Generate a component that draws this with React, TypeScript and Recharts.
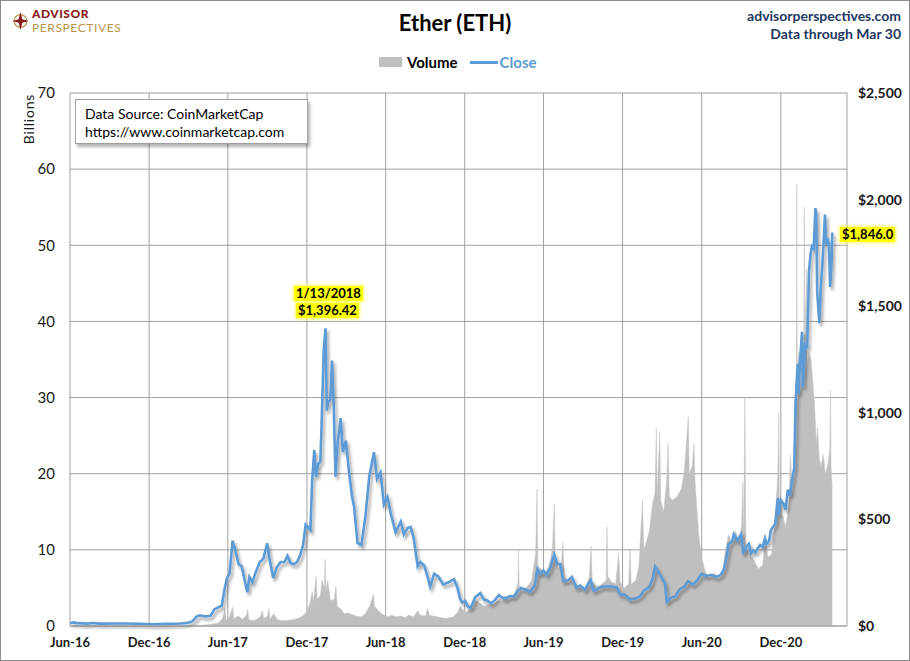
import React from "react";
import { ComposedChart, Area, Line, XAxis, YAxis, CartesianGrid } from "recharts";

// x axis: 6-month gridlines
const tickDates = [
  "2016-06-01", "2016-12-01", "2017-06-01", "2017-12-01", "2018-06-01",
  "2018-12-01", "2019-06-01", "2019-12-01", "2020-06-01", "2020-12-01",
];
const tickLabels = [
  "Jun-16", "Dec-16", "Jun-17", "Dec-17", "Jun-18",
  "Dec-18", "Jun-19", "Dec-19", "Jun-20", "Dec-20",
];
const axisEnd = "2021-05-03";

const volumeTicks = [0, 10, 20, 30, 40, 50, 60, 70];
const closeTicks = [0, 500, 1000, 1500, 2000, 2500];

// ETH close, USD
const closePoints: [string, number][] = [
  ["2016-06-01", 14], ["2016-06-12", 17], ["2016-06-17", 13], ["2016-06-25", 13.5],
  ["2016-07-10", 11], ["2016-07-22", 14], ["2016-08-10", 11], ["2016-09-10", 12],
  ["2016-10-10", 12], ["2016-11-10", 10.5], ["2016-12-10", 8], ["2017-01-10", 10],
  ["2017-02-10", 11.5], ["2017-02-25", 14], ["2017-03-08", 19], ["2017-03-14", 28],
  ["2017-03-20", 43], ["2017-03-28", 50], ["2017-04-10", 45], ["2017-04-22", 48],
  ["2017-05-01", 78], ["2017-05-10", 88], ["2017-05-18", 95], ["2017-05-24", 168],
  ["2017-05-30", 225], ["2017-06-05", 245], ["2017-06-12", 400], ["2017-06-18", 360],
  ["2017-06-26", 290], ["2017-07-03", 280], ["2017-07-10", 215], ["2017-07-16", 158],
  ["2017-07-21", 230], ["2017-07-28", 205], ["2017-08-05", 255], ["2017-08-14", 300],
  ["2017-08-22", 315], ["2017-08-31", 388], ["2017-09-05", 320], ["2017-09-14", 225],
  ["2017-09-22", 275], ["2017-10-01", 300], ["2017-10-10", 300], ["2017-10-17", 330],
  ["2017-10-24", 295], ["2017-11-01", 290], ["2017-11-08", 300], ["2017-11-15", 330],
  ["2017-11-22", 380], ["2017-11-28", 475], ["2017-12-05", 460], ["2017-12-09", 450],
  ["2017-12-13", 680], ["2017-12-18", 825], ["2017-12-22", 700], ["2017-12-27", 760],
  ["2018-01-01", 770], ["2018-01-04", 950], ["2018-01-09", 1300], ["2018-01-13", 1396.42],
  ["2018-01-16", 1010], ["2018-01-19", 1050], ["2018-01-24", 1060], ["2018-01-28", 1245],
  ["2018-02-01", 1030], ["2018-02-05", 700], ["2018-02-10", 860], ["2018-02-17", 975],
  ["2018-02-22", 815], ["2018-03-01", 870], ["2018-03-08", 730], ["2018-03-15", 610],
  ["2018-03-20", 560], ["2018-03-28", 390], ["2018-04-06", 380], ["2018-04-15", 510],
  ["2018-04-24", 700], ["2018-05-05", 815], ["2018-05-12", 690], ["2018-05-20", 720],
  ["2018-05-28", 570], ["2018-06-05", 605], ["2018-06-13", 525], ["2018-06-24", 440],
  ["2018-07-06", 490], ["2018-07-13", 430], ["2018-07-22", 460], ["2018-07-29", 465],
  ["2018-08-05", 410], ["2018-08-14", 280], ["2018-08-20", 300], ["2018-08-29", 285],
  ["2018-09-06", 230], ["2018-09-12", 185], ["2018-09-21", 245], ["2018-10-01", 232],
  ["2018-10-12", 195], ["2018-10-25", 205], ["2018-11-06", 220], ["2018-11-14", 180],
  ["2018-11-20", 128], ["2018-11-25", 110], ["2018-12-02", 118], ["2018-12-08", 92],
  ["2018-12-14", 84], ["2018-12-20", 110], ["2018-12-25", 135], ["2019-01-06", 155],
  ["2019-01-14", 125], ["2019-01-22", 120], ["2019-01-31", 107], ["2019-02-08", 120],
  ["2019-02-18", 145], ["2019-02-24", 135], ["2019-03-05", 128], ["2019-03-15", 140],
  ["2019-03-25", 138], ["2019-04-03", 165], ["2019-04-10", 178], ["2019-04-22", 170],
  ["2019-05-01", 160], ["2019-05-12", 190], ["2019-05-18", 265], ["2019-05-24", 245],
  ["2019-06-01", 260], ["2019-06-08", 240], ["2019-06-16", 270], ["2019-06-26", 335],
  ["2019-07-03", 290], ["2019-07-10", 290], ["2019-07-17", 210], ["2019-07-28", 215],
  ["2019-08-06", 230], ["2019-08-16", 180], ["2019-08-25", 190], ["2019-09-05", 170],
  ["2019-09-18", 215], ["2019-09-25", 165], ["2019-10-05", 175], ["2019-10-15", 185],
  ["2019-10-26", 185], ["2019-11-08", 185], ["2019-11-18", 180], ["2019-11-25", 148],
  ["2019-12-05", 148], ["2019-12-18", 125], ["2020-01-01", 130], ["2020-01-10", 140],
  ["2020-01-19", 165], ["2020-02-01", 185], ["2020-02-09", 225], ["2020-02-14", 280],
  ["2020-02-20", 260], ["2020-03-01", 225], ["2020-03-08", 200], ["2020-03-12", 112],
  ["2020-03-20", 130], ["2020-04-01", 140], ["2020-04-10", 170], ["2020-04-22", 185],
  ["2020-04-30", 210], ["2020-05-12", 195], ["2020-05-20", 210], ["2020-06-01", 245],
  ["2020-06-12", 235], ["2020-06-22", 240], ["2020-07-05", 230], ["2020-07-15", 240],
  ["2020-07-22", 265], ["2020-07-28", 320], ["2020-08-02", 385], ["2020-08-10", 395],
  ["2020-08-14", 430], ["2020-08-22", 400], ["2020-08-31", 430], ["2020-09-05", 345],
  ["2020-09-09", 355], ["2020-09-13", 375], ["2020-09-18", 385], ["2020-09-23", 340],
  ["2020-09-28", 355], ["2020-10-03", 345], ["2020-10-09", 365], ["2020-10-14", 380],
  ["2020-10-20", 370], ["2020-10-25", 410], ["2020-10-29", 385], ["2020-11-04", 400],
  ["2020-11-08", 450], ["2020-11-18", 480], ["2020-11-24", 600], ["2020-11-26", 520],
  ["2020-12-01", 590], ["2020-12-08", 570], ["2020-12-12", 545], ["2020-12-17", 640],
  ["2020-12-22", 610], ["2020-12-27", 685], ["2021-01-01", 740], ["2021-01-04", 1040],
  ["2021-01-09", 1230], ["2021-01-11", 1090], ["2021-01-14", 1230], ["2021-01-19", 1380],
  ["2021-01-21", 1120], ["2021-01-26", 1320], ["2021-01-31", 1310], ["2021-02-04", 1660],
  ["2021-02-08", 1750], ["2021-02-11", 1780], ["2021-02-15", 1770], ["2021-02-19", 1960],
  ["2021-02-21", 1930], ["2021-02-23", 1570], ["2021-02-26", 1480], ["2021-02-28", 1420],
  ["2021-03-03", 1570], ["2021-03-06", 1660], ["2021-03-10", 1800], ["2021-03-13", 1930],
  ["2021-03-16", 1790], ["2021-03-19", 1820], ["2021-03-22", 1790], ["2021-03-25", 1590],
  ["2021-03-28", 1690], ["2021-03-30", 1846],
];

// ETH volume, billions USD
const volumePoints: [string, number][] = [
  ["2016-06-01", 0.05], ["2016-12-01", 0.03], ["2017-03-01", 0.06], ["2017-04-01", 0.1],
  ["2017-04-20", 0.2], ["2017-05-01", 0.3], ["2017-05-10", 0.4], ["2017-05-20", 1.0],
  ["2017-05-25", 2.3], ["2017-05-28", 0.8], ["2017-06-05", 1.2], ["2017-06-12", 2.5],
  ["2017-06-15", 1.0], ["2017-06-25", 1.3], ["2017-07-05", 0.9], ["2017-07-15", 1.5],
  ["2017-07-17", 2.2], ["2017-07-20", 0.8], ["2017-08-01", 0.7], ["2017-08-15", 1.2],
  ["2017-08-20", 2.0], ["2017-08-23", 1.0], ["2017-09-01", 1.3], ["2017-09-04", 2.3],
  ["2017-09-07", 0.9], ["2017-09-15", 1.6], ["2017-09-25", 0.8], ["2017-10-10", 0.7],
  ["2017-10-25", 0.8], ["2017-11-05", 0.9], ["2017-11-15", 1.1], ["2017-11-25", 1.5],
  ["2017-12-01", 2.0], ["2017-12-08", 3.0], ["2017-12-13", 4.5], ["2017-12-16", 3.2],
  ["2017-12-22", 6.5], ["2017-12-25", 3.5], ["2018-01-01", 4.0], ["2018-01-05", 6.0],
  ["2018-01-10", 5.0], ["2018-01-12", 8.8], ["2018-01-14", 4.5], ["2018-01-18", 6.0],
  ["2018-01-25", 3.3], ["2018-02-02", 3.5], ["2018-02-06", 5.2], ["2018-02-09", 2.6],
  ["2018-02-18", 2.2], ["2018-02-25", 1.6], ["2018-03-05", 1.7], ["2018-03-15", 1.5],
  ["2018-03-25", 1.3], ["2018-04-05", 1.2], ["2018-04-15", 1.6], ["2018-04-25", 2.6],
  ["2018-05-04", 4.2], ["2018-05-06", 2.6], ["2018-05-15", 2.0], ["2018-05-25", 1.5],
  ["2018-06-05", 1.2], ["2018-06-15", 1.4], ["2018-06-25", 1.2], ["2018-07-05", 1.3],
  ["2018-07-15", 1.1], ["2018-07-25", 1.4], ["2018-08-05", 1.2], ["2018-08-14", 2.0],
  ["2018-08-20", 1.4], ["2018-09-01", 1.3], ["2018-09-06", 2.3], ["2018-09-10", 1.4],
  ["2018-09-20", 1.3], ["2018-10-05", 1.1], ["2018-10-20", 1.0], ["2018-11-05", 1.2],
  ["2018-11-15", 1.8], ["2018-11-20", 2.6], ["2018-11-25", 2.2], ["2018-12-05", 1.8],
  ["2018-12-15", 2.4], ["2018-12-25", 3.4], ["2019-01-05", 3.0], ["2019-01-15", 2.6],
  ["2019-01-25", 2.8], ["2019-02-05", 2.9], ["2019-02-15", 3.3], ["2019-02-25", 3.2],
  ["2019-03-05", 4.0], ["2019-03-15", 3.6], ["2019-03-25", 4.2], ["2019-04-03", 5.5],
  ["2019-04-04", 10.0], ["2019-04-06", 5.0], ["2019-04-15", 4.6], ["2019-04-25", 5.2],
  ["2019-05-05", 6.0], ["2019-05-10", 8.0], ["2019-05-14", 9.5], ["2019-05-17", 18.0],
  ["2019-05-19", 8.0], ["2019-05-25", 7.5], ["2019-06-05", 7.0], ["2019-06-15", 8.0],
  ["2019-06-22", 10.5], ["2019-06-26", 16.0], ["2019-06-28", 9.0], ["2019-07-05", 7.5],
  ["2019-07-12", 8.0], ["2019-07-16", 11.0], ["2019-07-19", 6.5], ["2019-07-28", 5.8],
  ["2019-08-05", 6.5], ["2019-08-15", 5.5], ["2019-08-25", 5.0], ["2019-09-05", 5.0],
  ["2019-09-15", 6.4], ["2019-09-19", 10.5], ["2019-09-22", 5.8], ["2019-10-01", 5.2],
  ["2019-10-12", 5.4], ["2019-10-24", 6.0], ["2019-10-26", 13.0], ["2019-10-28", 6.5],
  ["2019-11-05", 5.8], ["2019-11-15", 5.5], ["2019-11-22", 9.5], ["2019-11-25", 5.8],
  ["2019-12-05", 5.0], ["2019-12-15", 5.5], ["2019-12-18", 10.0], ["2019-12-21", 5.5],
  ["2020-01-01", 6.0], ["2020-01-08", 8.0], ["2020-01-16", 16.5], ["2020-01-19", 10.0],
  ["2020-01-25", 11.0], ["2020-02-01", 12.5], ["2020-02-08", 16.0], ["2020-02-14", 17.5],
  ["2020-02-17", 26.0], ["2020-02-19", 17.0], ["2020-02-25", 25.5], ["2020-02-27", 16.5],
  ["2020-03-05", 15.0], ["2020-03-12", 19.0], ["2020-03-15", 24.0], ["2020-03-18", 17.0],
  ["2020-03-25", 16.5], ["2020-04-05", 17.0], ["2020-04-15", 18.0], ["2020-04-22", 20.5],
  ["2020-05-01", 27.5], ["2020-05-03", 20.0], ["2020-05-10", 21.0], ["2020-05-14", 24.0],
  ["2020-05-17", 18.5], ["2020-05-25", 12.0], ["2020-06-01", 9.0], ["2020-06-10", 7.0],
  ["2020-06-20", 6.5], ["2020-06-30", 7.0], ["2020-07-10", 6.2], ["2020-07-20", 7.5],
  ["2020-07-26", 10.0], ["2020-08-02", 12.0], ["2020-08-10", 11.0], ["2020-08-18", 12.5],
  ["2020-08-25", 11.0], ["2020-09-01", 13.0], ["2020-09-04", 18.8], ["2020-09-06", 12.0],
  ["2020-09-09", 30.0], ["2020-09-11", 10.5], ["2020-09-20", 9.5], ["2020-10-01", 8.5],
  ["2020-10-10", 7.5], ["2020-10-20", 8.0], ["2020-10-26", 12.0], ["2020-11-01", 9.0],
  ["2020-11-10", 9.5], ["2020-11-18", 14.0], ["2020-11-24", 20.0], ["2020-11-26", 28.0],
  ["2020-11-28", 14.0], ["2020-12-05", 14.5], ["2020-12-12", 13.0], ["2020-12-20", 16.0],
  ["2020-12-23", 22.5], ["2020-12-27", 18.0], ["2021-01-01", 22.0], ["2021-01-03", 30.0],
  ["2021-01-06", 33.0], ["2021-01-07", 58.0], ["2021-01-08", 33.0], ["2021-01-12", 36.0],
  ["2021-01-16", 30.0], ["2021-01-20", 34.0], ["2021-01-23", 36.0], ["2021-01-24", 55.0],
  ["2021-01-25", 35.0], ["2021-01-29", 47.0], ["2021-01-30", 34.0], ["2021-02-04", 36.0],
  ["2021-02-09", 35.0], ["2021-02-13", 32.0], ["2021-02-17", 29.0], ["2021-02-21", 24.0],
  ["2021-02-24", 26.0], ["2021-02-28", 22.0], ["2021-03-04", 21.0], ["2021-03-09", 22.5],
  ["2021-03-14", 20.0], ["2021-03-19", 21.0], ["2021-03-24", 23.0], ["2021-03-26", 31.0],
  ["2021-03-27", 21.0], ["2021-03-30", 18.0],
];

const BASE = Date.parse("2016-06-01");
const dayOf = (d: string) => (Date.parse(d) - BASE) / 86400000;

const tickDays = tickDates.map(dayOf);
const closeRows = closePoints.map(([d, v]) => ({ t: dayOf(d), close: v }));
const volumeRows = volumePoints.map(([d, v]) => ({ t: dayOf(d), volume: v }));

const FONT = "Lato, 'Noto Sans', sans-serif";
const NAVY = "#1f3864";

const fmtX = (v: number) => {
  const i = tickDays.indexOf(v);
  return i >= 0 ? tickLabels[i] : "";
};
const fmtDollar = (v: number) => "$" + v.toLocaleString("en-US");

const hl: React.CSSProperties = {
  position: "absolute",
  background: "#ffff00",
  fontWeight: 700,
  fontSize: 13,
  lineHeight: "15px",
  padding: "0 2px",
  boxShadow: "0 0 3px 1px #ffff66",
  color: "#000",
};

export default function App() {
  return (
    <div style={{ position: "absolute", left: 0, top: 0, width: 910, height: 661, fontFamily: FONT, background: "#fff" }}>
      <ComposedChart width={910} height={661} margin={{ top: 93, right: 0, bottom: 0, left: 0 }}>
        <defs>
          <filter id="lineShadow" x="-5%" y="-5%" width="110%" height="115%">
            <feDropShadow dx="2" dy="3" stdDeviation="1.4" floodColor="#000" floodOpacity="0.35" />
          </filter>
        </defs>
        <CartesianGrid yAxisId="left" stroke="#a0a0a0" strokeWidth={1} />
        <XAxis
          dataKey="t"
          type="number"
          domain={[0, dayOf(axisEnd)]}
          ticks={tickDays}
          tickFormatter={fmtX}
          height={35}
          tickLine={false}
          tickSize={0}
          tickMargin={12}
          stroke="#a0a0a0"
          tick={{ fill: "#1a1a1a", fontSize: 13, fontWeight: 700, fontFamily: FONT }}
          allowDataOverflow
        />
        <YAxis
          yAxisId="left"
          orientation="left"
          width={70}
          domain={[0, 70]}
          ticks={volumeTicks}
          tickLine={false}
          axisLine={false}
          tickSize={0}
          tickMargin={15}
          tick={{ fill: "#1a1a1a", fontSize: 15, fontFamily: FONT }}
        />
        <YAxis
          yAxisId="right"
          orientation="right"
          width={63}
          domain={[0, 2500]}
          ticks={closeTicks}
          tickFormatter={fmtDollar}
          tickLine={false}
          axisLine={false}
          tickSize={0}
          tickMargin={11}
          tick={{ fill: "#1a1a1a", fontSize: 14, fontWeight: 700, fontFamily: FONT }}
        />
        <Area
          yAxisId="left"
          data={volumeRows}
          dataKey="volume"
          type="linear"
          fill="#bfbfbf"
          fillOpacity={1}
          stroke="#c4c4c4"
          strokeWidth={0.5}
          isAnimationActive={false}
        />
        <Line
          yAxisId="right"
          data={closeRows}
          dataKey="close"
          type="linear"
          stroke="#5b9bd5"
          strokeWidth={2.6}
          dot={false}
          filter="url(#lineShadow)"
          isAnimationActive={false}
        />
      </ComposedChart>

      {/* frame */}
      <div style={{ position: "absolute", left: 0, top: 0, width: 910, height: 661, boxSizing: "border-box", border: "1px solid #8c8c8c", pointerEvents: "none" }} />

      {/* logo */}
      <svg style={{ position: "absolute", left: 11, top: 11 }} width={19} height={20} viewBox="0 0 20 22">
        <circle cx="10" cy="11" r="7" fill="none" stroke="#b8954a" strokeWidth="1.3" />
        <polygon points="10,1 12,9 19,11 12,13 10,21 8,13 1,11 8,9" fill="#8b1a1a" />
      </svg>
      <div style={{ position: "absolute", left: 32, top: 7, fontSize: 12, fontWeight: 900, color: "#8b1a1a", lineHeight: "14px", letterSpacing: 0.5 }}>ADVISOR</div>
      <div style={{ position: "absolute", left: 32, top: 21, fontSize: 12, color: "#b8954a", lineHeight: "14px", letterSpacing: 0.6 }}>PERSPECTIVES</div>

      {/* title */}
      <div style={{ position: "absolute", left: 0, width: 910, top: 9, textAlign: "center", fontSize: 22, fontWeight: 700, color: "#000" }}>Ether (ETH)</div>

      <div style={{ position: "absolute", right: 9, top: 7, fontSize: 14, fontWeight: 700, color: NAVY, textAlign: "right", lineHeight: "18px" }}>
        advisorperspectives.com
        <br />
        Data through Mar 30
      </div>

      {/* legend */}
      <div style={{ position: "absolute", left: 379, top: 53, display: "flex", alignItems: "center", fontSize: 15, fontWeight: 700 }}>
        <span style={{ display: "inline-block", width: 23, height: 10, background: "#bfbfbf", marginRight: 5 }} />
        <span style={{ color: "#000", marginRight: 12 }}>Volume</span>
        <span style={{ display: "inline-block", width: 28, height: 3, background: "#5b9bd5", marginRight: 2 }} />
        <span style={{ color: "#5b9bd5" }}>Close</span>
      </div>

      {/* axis title */}
      <div style={{ position: "absolute", left: 28, top: 119, transform: "translate(-50%,-50%) rotate(-90deg)", transformOrigin: "center", fontSize: 14, color: "#1a1a1a", whiteSpace: "nowrap", letterSpacing: 0.8 }}>Billions</div>

      {/* source box */}
      <div style={{ position: "absolute", left: 75, top: 99, width: 233, height: 45, boxSizing: "border-box", background: "#fff", border: "1px solid #a0a0a0", boxShadow: "2px 3px 3px rgba(0,0,0,0.3)", padding: "5px 0 0 9px", fontSize: 14, lineHeight: "18px", color: "#000" }}>
        Data Source: CoinMarketCap
        <br />
        https://www.coinmarketcap.com
      </div>

      {/* annotations */}
      <div style={{ ...hl, left: 294, top: 286 }}>1/13/2018</div>
      <div style={{ ...hl, left: 296, top: 303 }}>$1,396.42</div>
      <div style={{ ...hl, left: 840, top: 227 }}>$1,846.0</div>
    </div>
  );
}
